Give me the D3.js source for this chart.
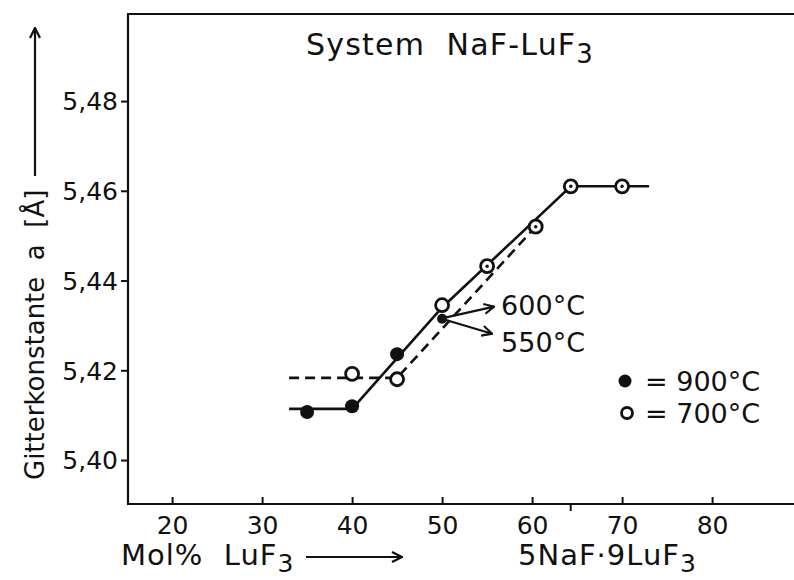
<!DOCTYPE html>
<html>
<head>
<meta charset="utf-8">
<script src="https://cdn.jsdelivr.net/npm/d3@7/dist/d3.min.js"></script>
<style>
  body { margin: 0; background: #fff; }
  text { font-family: "DejaVu Sans", sans-serif; fill: #111; white-space: pre; }
</style>
</head>
<body>
<svg id="chart" width="794" height="580"></svg>
<script>
// tick values
const xTicks = [20, 30, 40, 50, 60, 70, 80];
const yTicks = [5.40, 5.42, 5.44, 5.46, 5.48];
const compoundX = 64.29; // 5NaF.9LuF3

// measured points
const fill900X = [35, 40, 45];
const fill900Y = [5.4107, 5.4120, 5.4236];
const open700X = [40, 45, 50, 55, 60.4, 64.3, 70];
const open700Y = [5.4192, 5.4180, 5.4345, 5.4432, 5.4520, 5.4610, 5.4610];
const lowX = [50];           // 600 / 550 degC point
const lowY = [5.4315];

// drawn curves
const solidX = [33, 40, 50, 64.3, 73];
const solidY = [5.4114, 5.4114, 5.4340, 5.4610, 5.4610];
const dashX = [33, 45, 60.4];
const dashY = [5.4183, 5.4183, 5.4520];

var svg = d3.select("#chart");
var mLeft = 128, mTop = 14, mBottom = 504, mRight = 794;

var x = d3.scaleLinear().domain([15.1, 89.1]).range([mLeft, mRight]);
var y = d3.scaleLinear().domain([5.3902, 5.4994]).range([mBottom, mTop]);

var defs = svg.append("defs");
defs.append("marker")
    .attr("id", "arr")
    .attr("viewBox", "0 0 12 12")
    .attr("refX", 11).attr("refY", 6)
    .attr("markerWidth", 12).attr("markerHeight", 12)
    .attr("markerUnits", "userSpaceOnUse")
    .attr("orient", "auto")
    .append("path")
    .attr("d", "M1,1 L11,6 L1,11")
    .attr("fill", "none").attr("stroke", "#111").attr("stroke-width", 2.2);

// frame (no right side)
svg.append("path")
    .attr("d", "M" + mRight + "," + mTop + "H" + mLeft + "V" + mBottom + "H" + mRight)
    .attr("fill", "none").attr("stroke", "#111").attr("stroke-width", 2.2);

var fmt = function(d) { return d3.format(".2f")(d).replace(".", ","); };

var yAxis = svg.append("g")
    .attr("transform", "translate(" + mLeft + ",0)")
    .call(d3.axisLeft(y).tickValues(yTicks).tickSize(7).tickPadding(3).tickFormat(fmt));
yAxis.select(".domain").remove();
yAxis.selectAll("line").attr("stroke", "#111").attr("stroke-width", 2);
yAxis.selectAll("text").style("font-size", "25px").attr("fill", "#111").attr("dy", "0.35em");

var xAxis = svg.append("g")
    .attr("transform", "translate(0," + mBottom + ")")
    .call(d3.axisBottom(x).tickValues(xTicks).tickSizeInner(-7).tickSizeOuter(0).tickPadding(12));
xAxis.select(".domain").remove();
xAxis.selectAll("line").attr("stroke", "#111").attr("stroke-width", 2);
xAxis.selectAll("text").style("font-size", "25px").attr("fill", "#111");

// small tick for 5NaF.9LuF3
svg.append("line")
    .attr("x1", x(compoundX)).attr("x2", x(compoundX))
    .attr("y1", mBottom).attr("y2", mBottom + 7)
    .attr("stroke", "#111").attr("stroke-width", 2);

// curves
var lineGen = d3.line().x(function(d) { return x(d[0]); }).y(function(d) { return y(d[1]); });
svg.append("path")
    .attr("d", lineGen(d3.zip(solidX, solidY)))
    .attr("fill", "none").attr("stroke", "#111").attr("stroke-width", 2.6);
svg.append("path")
    .attr("d", lineGen(d3.zip(dashX, dashY)))
    .attr("fill", "none").attr("stroke", "#111").attr("stroke-width", 2.6)
    .attr("stroke-dasharray", "10,6");

// markers
svg.append("g").selectAll("circle")
    .data(d3.zip(open700X, open700Y))
    .enter().append("circle")
    .attr("cx", function(d) { return x(d[0]); })
    .attr("cy", function(d) { return y(d[1]); })
    .attr("r", 6.5)
    .attr("fill", "#fff").attr("stroke", "#111").attr("stroke-width", 2.8);
svg.append("g").selectAll("circle")
    .data(d3.zip(open700X, open700Y).filter(function(d, i) { return i >= 3; }))
    .enter().append("circle")
    .attr("cx", function(d) { return x(d[0]); })
    .attr("cy", function(d) { return y(d[1]); })
    .attr("r", 1.7).attr("fill", "#111");
svg.append("g").selectAll("circle")
    .data(d3.zip(fill900X, fill900Y))
    .enter().append("circle")
    .attr("cx", function(d) { return x(d[0]); })
    .attr("cy", function(d) { return y(d[1]); })
    .attr("r", 7).attr("fill", "#111");
svg.append("g").selectAll("circle")
    .data(d3.zip(lowX, lowY))
    .enter().append("circle")
    .attr("cx", function(d) { return x(d[0]); })
    .attr("cy", function(d) { return y(d[1]); })
    .attr("r", 5).attr("fill", "#111");

// 600 / 550 annotations
var ax = x(lowX[0]), ay = y(lowY[0]);
svg.append("line")
    .attr("x1", ax + 3).attr("y1", ay - 1)
    .attr("x2", ax + 52).attr("y2", ay - 12)
    .attr("stroke", "#111").attr("stroke-width", 2.2).attr("marker-end", "url(#arr)");
svg.append("line")
    .attr("x1", ax + 3).attr("y1", ay + 1)
    .attr("x2", ax + 50).attr("y2", ay + 15)
    .attr("stroke", "#111").attr("stroke-width", 2.2).attr("marker-end", "url(#arr)");
svg.append("text").attr("x", ax + 59).attr("y", ay - 4)
    .style("font-size", "27px").text("600°C");
svg.append("text").attr("x", ax + 59).attr("y", ay + 33)
    .style("font-size", "27px").text("550°C");

// legend
svg.append("circle").attr("cx", 625).attr("cy", 381).attr("r", 6.5).attr("fill", "#111");
svg.append("text").attr("x", 645).attr("y", 391).style("font-size", "27px").text("= 900°C");
svg.append("circle").attr("cx", 627).attr("cy", 413).attr("r", 5.5)
    .attr("fill", "#fff").attr("stroke", "#111").attr("stroke-width", 2.8);
svg.append("text").attr("x", 645).attr("y", 423).style("font-size", "27px").text("= 700°C");

// title
var title = svg.append("text").attr("x", 306).attr("y", 55)
    .style("font-size", "30px").style("letter-spacing", "1.2px");
title.append("tspan").text("System  NaF-LuF");
title.append("tspan").attr("dy", 8).style("font-size", "26px").text("3");

// x label
var xl = svg.append("text").attr("x", 121).attr("y", 565)
    .style("font-size", "29px").style("letter-spacing", "1px");
xl.append("tspan").text("Mol%  LuF");
xl.append("tspan").attr("dy", 7).style("font-size", "25px").text("3");
svg.append("line")
    .attr("x1", 306).attr("y1", 557).attr("x2", 402).attr("y2", 557)
    .attr("stroke", "#111").attr("stroke-width", 2.2).attr("marker-end", "url(#arr)");
var cl = svg.append("text").attr("x", 518).attr("y", 565)
    .style("font-size", "29px").style("letter-spacing", "1px");
cl.append("tspan").text("5NaF·9LuF");
cl.append("tspan").attr("dy", 7).style("font-size", "25px").text("3");

// y label
var yl = svg.append("text")
    .attr("transform", "translate(44,480) rotate(-90)")
    .style("font-size", "26px");
yl.append("tspan").text("Gitterkonstante  a  [Å]");
svg.append("line")
    .attr("x1", 35).attr("y1", 176).attr("x2", 35).attr("y2", 28)
    .attr("stroke", "#111").attr("stroke-width", 2.2).attr("marker-end", "url(#arr)");
</script>
</body>
</html>
